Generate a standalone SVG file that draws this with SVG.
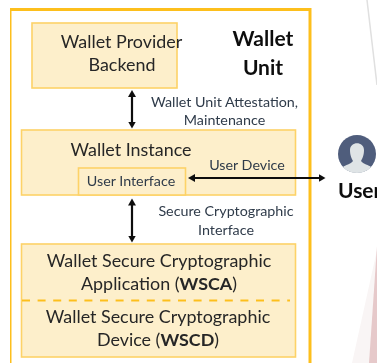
<svg xmlns="http://www.w3.org/2000/svg" width="377" height="363" viewBox="0 0 377 363">
<style>
text{font-family:Lato,"Liberation Sans",sans-serif;fill:#262626;text-anchor:middle}
.n{font-size:17.900px}
.s{font-size:14.300px;fill:#2f3b4a}
.b{font-size:21px;font-weight:700;fill:#111}
.box{fill:#fdefcb;stroke:#fdd267;stroke-width:1.600}
.c{stroke:#111;stroke-width:2.200;fill:none;marker-start:url(#a);marker-end:url(#a)}
</style>
<defs>
<marker id="a" markerWidth="8" markerHeight="8" refX="1" refY="4" orient="auto-start-reverse" markerUnits="userSpaceOnUse"><path d="M0 0L7 4L0 8Z" fill="#111"/></marker>
<filter id="soft" x="0" y="0" width="100%" height="100%"><feGaussianBlur stdDeviation="0.35"/></filter>
</defs>
<rect width="377" height="363" fill="#fff"/>
<g filter="url(#soft)">
<path d="M367 0L377 85" stroke="#e0e0e0" stroke-width="1.500" fill="none"/>
<path d="M377 250L352 363H377Z" fill="#f9f5f5"/>
<path d="M377 246L369 363H377Z" fill="#e6c9ca"/>
<g id="wallet-unit"><rect x="10" y="9.500" width="300" height="360" fill="#fff" stroke="#fdbf1e" stroke-width="3"/><text class="b" x="263" y="46">Wallet</text><text class="b" x="263" y="75">Unit</text></g>
<g id="backend"><rect class="box" x="32" y="23" width="145" height="65"/><text class="n" x="121.500" y="48">Wallet Provider</text><text class="n" x="122" y="71">Backend</text></g>
<g id="instance"><rect class="box" x="21.500" y="130" width="274" height="65"/><text class="n" x="131" y="156">Wallet Instance</text><text class="s" x="247" y="170">User Device</text></g>
<g id="ui"><rect class="box" x="78.500" y="168" width="107" height="27"/><text class="s" x="131" y="186">User Interface</text></g>
<g id="wsc"><rect class="box" x="21.500" y="244" width="274" height="113"/><path d="M22 300.500H290" stroke="#fdbf1e" stroke-width="2" stroke-dasharray="8 7.600"/><text class="n" x="159" y="267">Wallet Secure Cryptographic</text><text class="n" x="159" y="290">Application (<tspan font-weight="700">WSCA</tspan>)</text><text class="n" x="158" y="323">Wallet Secure Cryptographic</text><text class="n" x="158" y="346">Device (<tspan font-weight="700">WSCD</tspan>)</text></g>
<g id="user"><circle cx="357" cy="154" r="19" fill="#4f5d7c"/><path d="M350 150C350 141 364 141 364 150C364 156 362 159 361 161C363 164 369 165 371 167C364 175 350 175 343 167C345 165 351 164 353 161C352 159 350 156 350 150Z" fill="#dfe4e6"/><text class="b" x="338" y="198" style="text-anchor:start">User</text></g>
<g id="connectors"><path class="c" d="M132 96V122.500"/><path class="c" d="M132 204.500V236.500"/><path class="c" d="M194 178H319.500"/></g>
<g id="labels"><text class="s" x="224.500" y="107">Wallet Unit Attestation,</text><text class="s" x="224.500" y="125">Maintenance</text><text class="s" x="226" y="216">Secure Cryptographic</text><text class="s" x="226" y="235">Interface</text></g>
</g>
</svg>
